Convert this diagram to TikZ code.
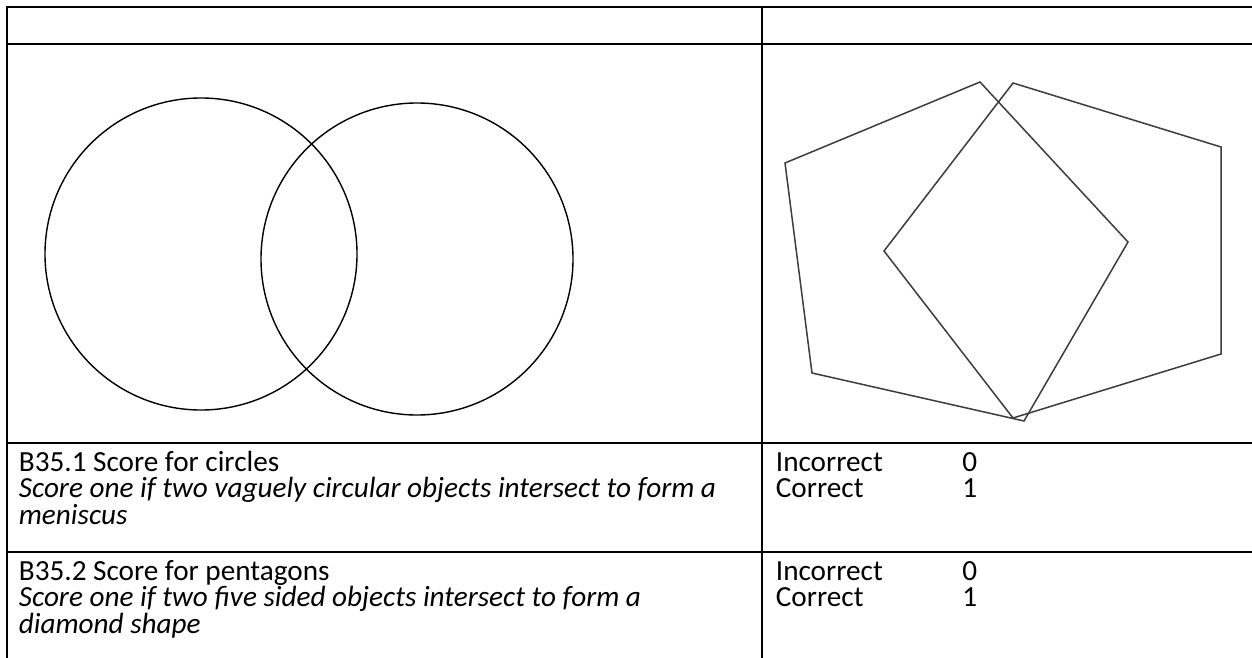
\documentclass[tikz,border=0pt]{standalone}
\usepackage{fontspec}
\setmainfont{Carlito}
\usetikzlibrary{positioning}
\definecolor{shapegray}{RGB}{60,60,60}
\tikzset{grid/.style={line width=1pt,draw=black},
  ring/.style={circle,draw=black,line width=0.7pt,minimum size=156pt,inner sep=0pt},
  pent/.style={draw=shapegray,line width=0.75pt,line join=miter},
  txt/.style={anchor=base west,inner sep=0pt,font=\fontsize{14.6}{13.3}\selectfont},
  note/.style={txt,font=\fontsize{14.6}{13.3}\selectfont\itshape}}
\begin{document}
\begin{tikzpicture}[x=0.5pt,y=-0.5pt]
\useasboundingbox (0,0) rectangle (1252,658);
% table rules
\draw[grid] (7,7) -- (1253,7);
\draw[grid] (7,44) -- (1253,44);
\draw[grid] (7,443) -- (1253,443);
\draw[grid] (7,552) -- (1253,552);
\draw[grid] (7,6.5) -- (7,659);
\draw[grid] (762,6.5) -- (762,659);
% circles
\node[ring] (leftring) at (201,254) {};
\node[ring] (rightring) at (417,259) {};
% pentagons
\draw[pent] (980,82) -- (785,163) -- (812,373) -- (1024,421) -- (1128,242) -- cycle;
\draw[pent] (1013,83) -- (1221,147) -- (1221,354) -- (1013,418) -- (884,251) -- cycle;
% row B35.1
\node[txt] (circhead) at (18.5,471) {B35.1 Score for circles};
\node[note] (circnote) at (18.5,497.6) {Score one if two vaguely circular objects intersect to form a};
\node[note] (circnotb) at (18.5,524.2) {meniscus};
\node[txt] (circno) at (775.5,471) {Incorrect};
\node[txt] (circnoval) at (962,471) {0};
\node[txt] (circyes) at (775.5,497.6) {Correct};
\node[txt] (circyesval) at (962,497.6) {1};
% row B35.2
\node[txt] (penthead) at (18.5,580) {B35.2 Score for pentagons};
\node[note] (pentnote) at (18.5,606.6) {Score one if two five sided objects intersect to form a};
\node[note] (pentnotb) at (18.5,633.2) {diamond shape};
\node[txt] (pentno) at (775.5,580) {Incorrect};
\node[txt] (pentnoval) at (962,580) {0};
\node[txt] (pentyes) at (775.5,606.6) {Correct};
\node[txt] (pentyesval) at (962,606.6) {1};
\end{tikzpicture}
\end{document}
